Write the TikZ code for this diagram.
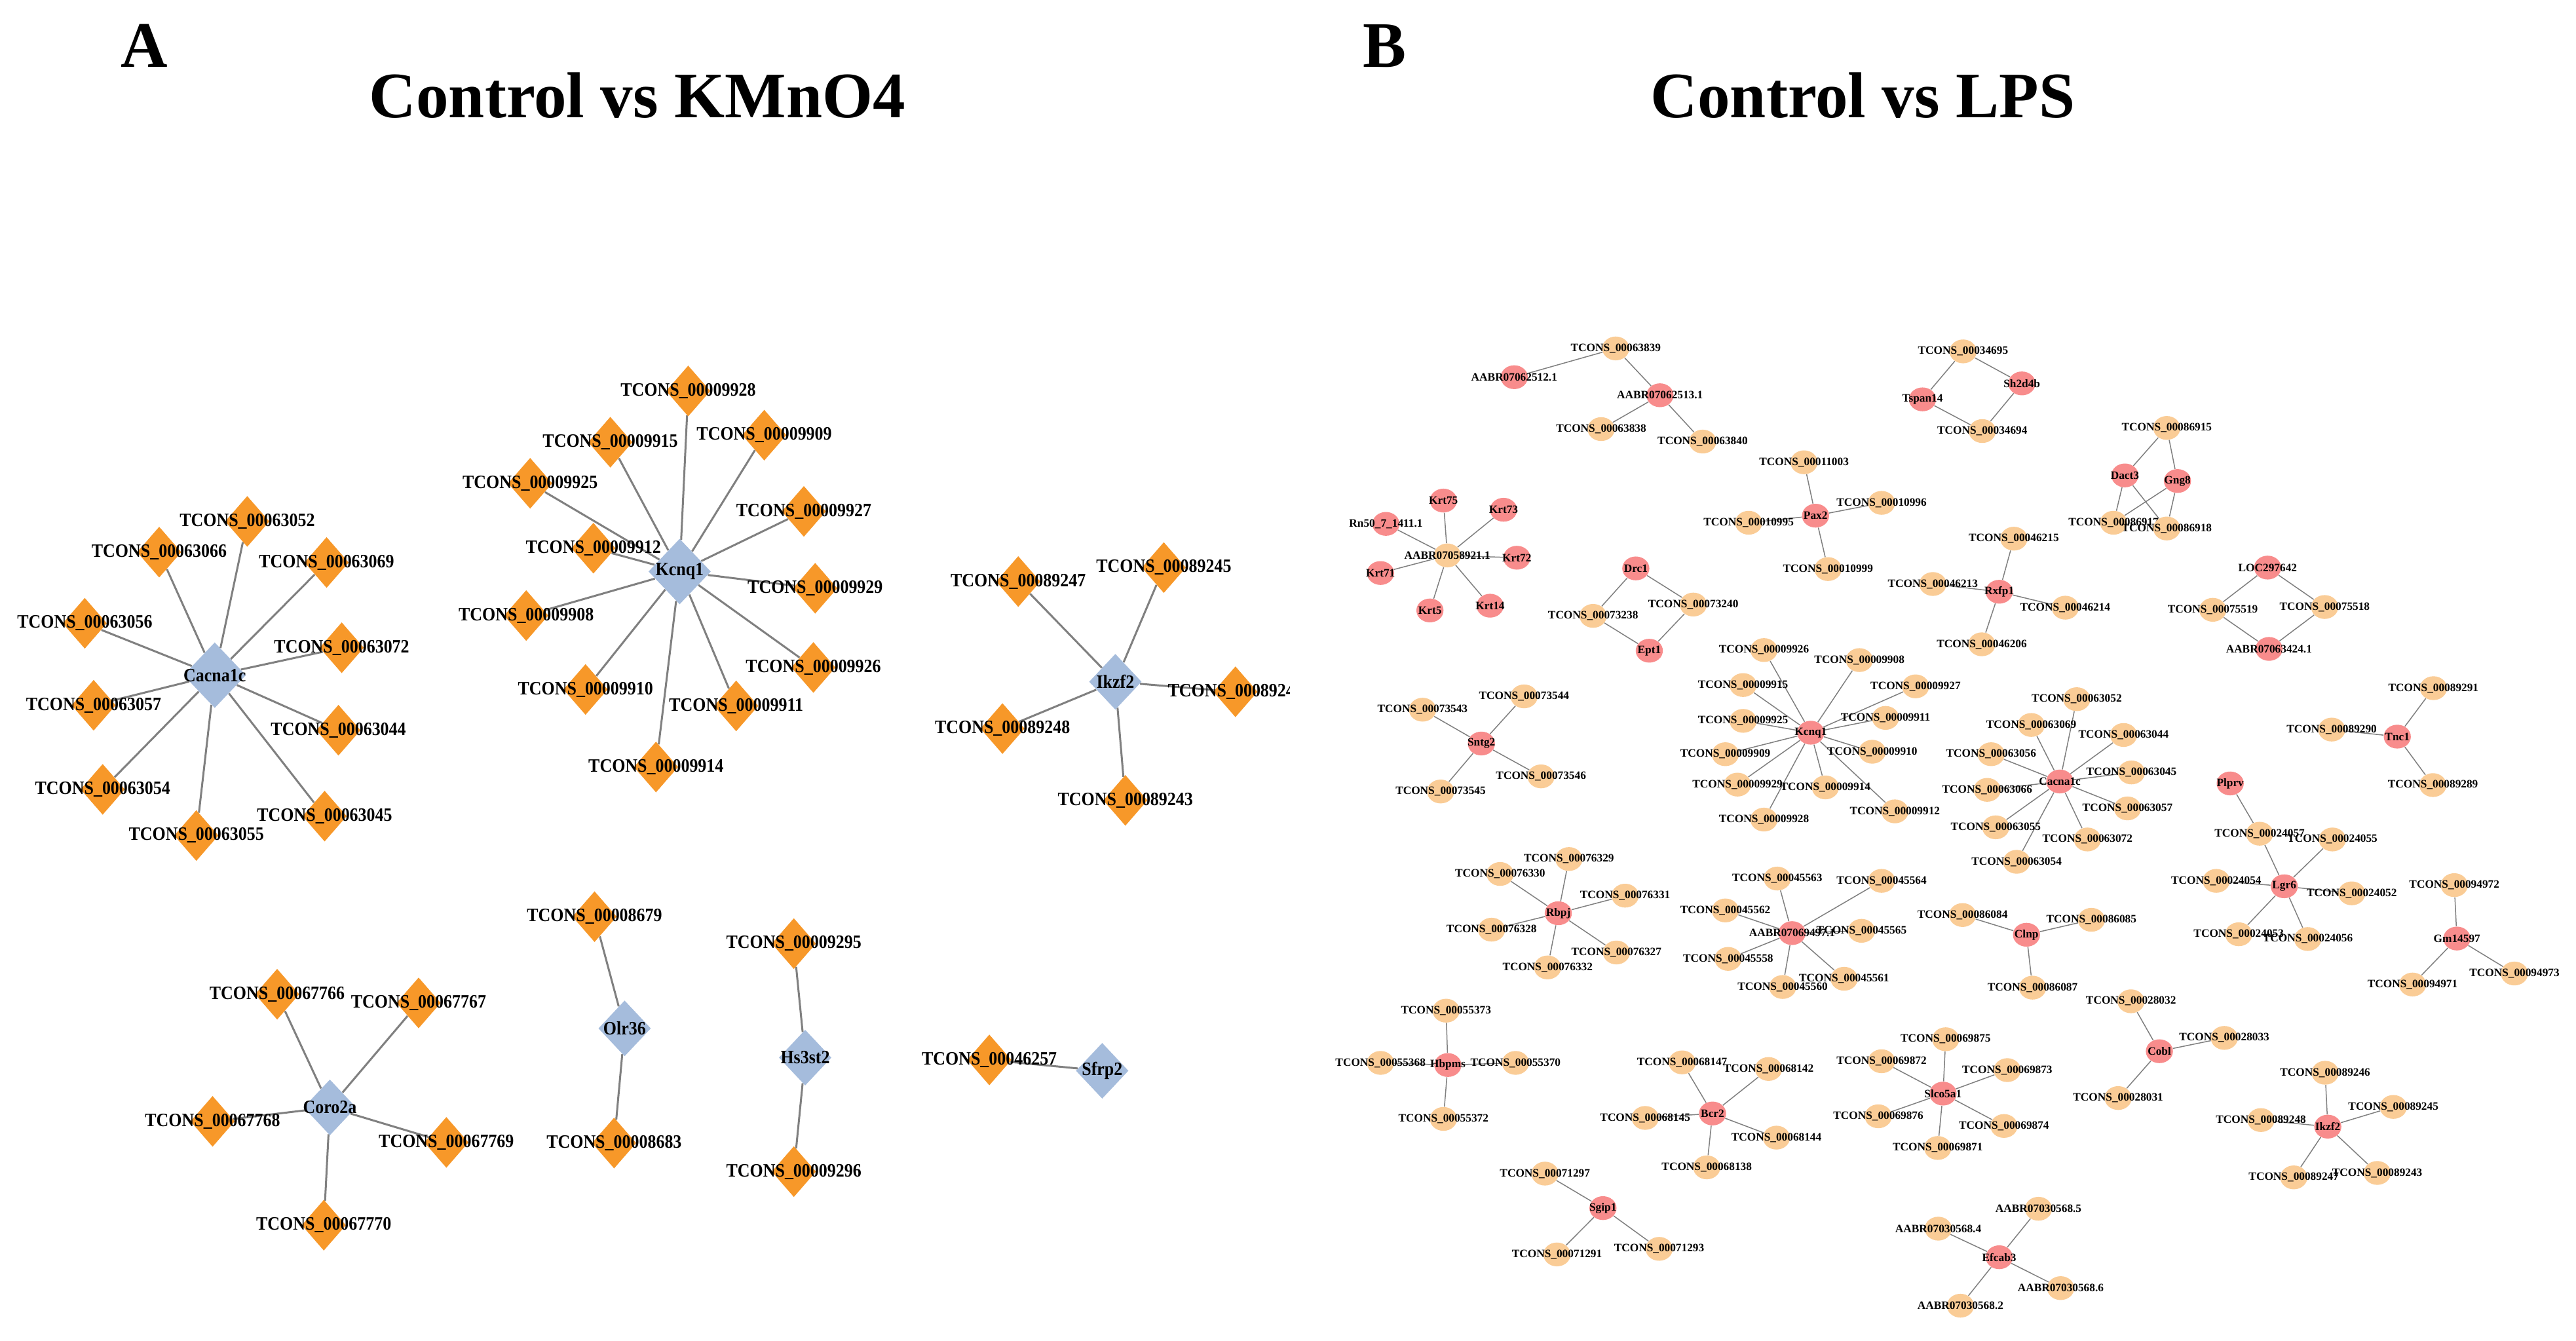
\documentclass[tikz,border=0pt]{standalone}
\usepackage{fontspec}
\setmainfont{Liberation Serif}
\newfontfamily\labfont{Liberation Serif}[FakeStretch=0.9]
\usetikzlibrary{shapes.geometric}
\pgfdeclarelayer{bottomlayer}
\pgfdeclarelayer{edgelayer}
\pgfsetlayers{bottomlayer,edgelayer,main}
\definecolor{orD}{RGB}{247,152,41}
\definecolor{blD}{RGB}{165,188,220}
\definecolor{pkC}{RGB}{248,140,140}
\definecolor{pcC}{RGB}{250,204,150}
\definecolor{edC}{RGB}{128,128,128}
\tikzset{
  labA/.style={font=\labfont\bfseries\fontsize{11.5}{12}\selectfont, inner sep=0pt},
  labB/.style={font=\bfseries\fontsize{6.9}{7}\selectfont, inner sep=0pt},
  odia/.style={shape=diamond, fill=orD, draw=none, inner sep=0pt, minimum width=27pt, minimum height=31pt},
  bdia/.style={shape=diamond, fill=blD, draw=none, inner sep=0pt, minimum width=38pt, minimum height=40pt},
  bdias/.style={shape=diamond, fill=blD, draw=none, inner sep=0pt, minimum width=32pt, minimum height=34pt},
  pkn/.style={shape=ellipse, fill=pkC, draw=none, inner sep=0pt, minimum width=16.5pt, minimum height=14.5pt},
  pcn/.style={shape=ellipse, fill=pcC, draw=none, inner sep=0pt, minimum width=16.5pt, minimum height=14.5pt},
  edA/.style={draw=edC, line width=1.2pt},
  edB/.style={draw=edC, line width=0.6pt},
  ttl/.style={font=\bfseries\fontsize{39.5}{41}\selectfont, inner sep=0pt}
}
\newcommand\odnode[3]{\node[odia,label={[labA]center:#3}] (#1) at (#2) {};}
\newcommand\bdnode[4][bdia]{\node[#1,label={[labA]center:#4}] (#2) at (#3) {};}
\newcommand\pcnode[3]{\node[pcn,label={[labB]center:#3}] (#1) at (#2) {};}
\newcommand\pknode[3]{\node[pkn,label={[labB]center:#3}] (#1) at (#2) {};}
\newcommand\tcn[1]{TCONS\_000#1}
\newcommand\starA[2]{\foreach \x in {#2} {\draw[edA] (#1) -- (\x);}}
\newcommand\starB[2]{\foreach \x in {#2} {\draw[edB] (#1) -- (\x);}}
\begin{document}
\begin{tikzpicture}[x=1pt,y=-1pt]
\useasboundingbox (0,0) rectangle (1568,816.3);
\begin{pgfonlayer}{bottomlayer}
\fill[white] (0,0) rectangle (1568,816.3);
\end{pgfonlayer}
% titles
\node[ttl] (tA) at (88,28) {A};
\node[ttl] (tAt) at (388,58) {Control vs KMnO4};
\node[ttl] (tB) at (843,28) {B};
\node[ttl] (tBt) at (1134,58) {Control vs LPS};

% ================= Panel A =================
\bdnode{ca}{130.7,411}{Cacna1c}
\odnode{a1}{150.5,317.4}{\tcn{63052}}
\odnode{a2}{96.9,336.1}{\tcn{63066}}
\odnode{a3}{198.8,342.4}{\tcn{63069}}
\odnode{a4}{51.6,379.4}{\tcn{63056}}
\odnode{a5}{208,394.3}{\tcn{63072}}
\odnode{a6}{57,429.3}{\tcn{63057}}
\odnode{a7}{206,444.5}{\tcn{63044}}
\odnode{a8}{62.5,480.5}{\tcn{63054}}
\odnode{a9}{197.6,496.8}{\tcn{63045}}
\odnode{a10}{119.5,508.6}{\tcn{63055}}

\bdnode{kq}{413.7,347.9}{Kcnq1}
\odnode{k1}{418.9,238.0}{\tcn{09928}}
\odnode{k2}{371.5,269.2}{\tcn{09915}}
\odnode{k3}{465.2,264.9}{\tcn{09909}}
\odnode{k4}{322.7,294.2}{\tcn{09925}}
\odnode{k5}{489.3,311.3}{\tcn{09927}}
\odnode{k6}{361.2,333.7}{\tcn{09912}}
\odnode{k7}{496.2,358.1}{\tcn{09929}}
\odnode{k8}{320.3,374.7}{\tcn{09908}}
\odnode{k9}{495.1,406.3}{\tcn{09926}}
\odnode{k10}{356.4,419.7}{\tcn{09910}}
\odnode{k11}{448.1,429.7}{\tcn{09911}}
\odnode{k12}{399.3,466.9}{\tcn{09914}}

\bdnode[bdias]{ik}{678.9,415.0}{Ikzf2}
\odnode{i1}{619.8,354.0}{\tcn{89247}}
\odnode{i2}{708.4,345.5}{\tcn{89245}}
\begin{scope}
\clip (700,380) rectangle (785,460);
\odnode{i3}{752,421.1}{\tcn{89246}}
\end{scope}
\odnode{i4}{610.2,443.5}{\tcn{89248}}
\odnode{i5}{685.0,487.2}{\tcn{89243}}

\bdnode[bdias]{co}{200.8,674.1}{Coro2a}
\odnode{c1}{168.7,605.2}{\tcn{67766}}
\odnode{c2}{254.8,610.5}{\tcn{67767}}
\odnode{c3}{129.4,682.6}{\tcn{67768}}
\odnode{c4}{271.7,695.4}{\tcn{67769}}
\odnode{c5}{197.1,745.8}{\tcn{67770}}

\bdnode[bdias]{ol}{380.2,626.0}{Olr36}
\odnode{o1}{361.9,558.0}{\tcn{08679}}
\odnode{o2}{373.8,695.8}{\tcn{08683}}

\bdnode[bdias]{hs}{490.1,643.8}{Hs3st2}
\odnode{h1}{483.2,574.4}{\tcn{09295}}
\odnode{h2}{483.2,713.2}{\tcn{09296}}

\bdnode[bdias]{sf}{670.9,651.8}{Sfrp2}
\odnode{s1}{602.2,645.2}{\tcn{46257}}

\begin{pgfonlayer}{edgelayer}
\starA{ca}{a1,a2,a3,a4,a5,a6,a7,a8,a9,a10}
\starA{kq}{k1,k2,k3,k4,k5,k6,k7,k8,k9,k10,k11,k12}
\starA{ik}{i1,i2,i3,i4,i5}
\starA{co}{c1,c2,c3,c4,c5}
\starA{ol}{o1,o2}
\starA{hs}{h1,h2}
\starA{sf}{s1}
\end{pgfonlayer}

% ================= Panel B =================
\pcnode{b1}{983.5,212.1}{\tcn{63839}}
\pknode{b2}{921.7,229.6}{AABR07062512.1}
\pknode{b3}{1010.4,240.6}{AABR07062513.1}
\pcnode{b4}{974.6,261.2}{\tcn{63838}}
\pcnode{b5}{1036.4,268.8}{\tcn{63840}}

\pcnode{kh}{881.0,338.1}{AABR07058921.1}
\pknode{kr1}{878.6,304.7}{Krt75}
\pknode{kr2}{915.2,310.3}{Krt73}
\pknode{kr3}{843.6,318.9}{Rn50\_7\_1411.1}
\pknode{kr4}{923.3,339.5}{Krt72}
\pknode{kr5}{840.3,348.8}{Krt71}
\pknode{kr6}{907.0,368.7}{Krt14}
\pknode{kr7}{870.4,371.6}{Krt5}

\pknode{dr1}{995.7,346.0}{Drc1}
\pcnode{dr2}{1030.7,368.0}{\tcn{73240}}
\pcnode{dr3}{969.7,374.9}{\tcn{73238}}
\pknode{dr4}{1003.9,396.1}{Ept1}

\pcnode{ts1}{1194.9,213.9}{\tcn{34695}}
\pknode{ts2}{1230.7,233.4}{Sh2d4b}
\pknode{ts3}{1170.2,243.1}{Tspan14}
\pcnode{ts4}{1206.6,262.4}{\tcn{34694}}

\pknode{px}{1105.1,313.9}{Pax2}
\pcnode{px1}{1098.1,281.4}{\tcn{11003}}
\pcnode{px2}{1145.3,306.1}{\tcn{10996}}
\pcnode{px3}{1064.4,318.2}{\tcn{10995}}
\pcnode{px4}{1112.7,346.4}{\tcn{10999}}

\pknode{rx}{1216.9,360.2}{Rxfp1}
\pcnode{rx1}{1225.8,327.9}{\tcn{46215}}
\pcnode{rx2}{1176.5,355.5}{\tcn{46213}}
\pcnode{rx3}{1257.1,369.9}{\tcn{46214}}
\pcnode{rx4}{1206.3,392.2}{\tcn{46206}}

\pknode{da}{1293.4,289.4}{Dact3}
\pknode{gn}{1325.4,292.8}{Gng8}
\pcnode{dg1}{1318.9,260.5}{\tcn{86915}}
\pcnode{dg2}{1286.5,318.2}{\tcn{86917}}
\pcnode{dg3}{1318.9,321.7}{\tcn{86918}}

\pknode{lc}{1380.3,345.5}{LOC297642}
\pcnode{lc1}{1346.9,371.2}{\tcn{75519}}
\pcnode{lc2}{1415.0,369.5}{\tcn{75518}}
\pknode{lc3}{1381.1,395.0}{AABR07063424.1}

\pknode{sn}{901.7,452.6}{Sntg2}
\pcnode{sn1}{927.7,423.9}{\tcn{73544}}
\pcnode{sn2}{865.9,432.0}{\tcn{73543}}
\pcnode{sn3}{938.0,472.6}{\tcn{73546}}
\pcnode{sn4}{876.9,481.8}{\tcn{73545}}

\pknode{rb}{948.5,555.9}{Rbpj}
\pcnode{rb1}{955.0,522.9}{\tcn{76329}}
\pcnode{rb2}{913.1,532.0}{\tcn{76330}}
\pcnode{rb3}{989.2,545.2}{\tcn{76331}}
\pcnode{rb4}{907.9,565.9}{\tcn{76328}}
\pcnode{rb5}{983.9,579.8}{\tcn{76327}}
\pcnode{rb6}{942.0,588.9}{\tcn{76332}}

\pknode{kb}{1102.2,446.0}{Kcnq1}
\pcnode{kb1}{1073.7,395.7}{\tcn{09926}}
\pcnode{kb2}{1131.8,401.8}{\tcn{09908}}
\pcnode{kb3}{1166.0,417.8}{\tcn{09927}}
\pcnode{kb4}{1061.0,417.0}{\tcn{09915}}
\pcnode{kb5}{1061.0,438.8}{\tcn{09925}}
\pcnode{kb6}{1147.7,437.0}{\tcn{09911}}
\pcnode{kb7}{1050.2,459.1}{\tcn{09909}}
\pcnode{kb8}{1139.6,457.6}{\tcn{09910}}
\pcnode{kb9}{1057.6,477.6}{\tcn{09929}}
\pcnode{kb10}{1111.1,479.3}{\tcn{09914}}
\pcnode{kb11}{1153.4,493.9}{\tcn{09912}}
\pcnode{kb12}{1073.7,498.9}{\tcn{09928}}

\pknode{cb}{1253.8,475.7}{Cacna1c}
\pcnode{cb1}{1264.1,425.6}{\tcn{63052}}
\pcnode{cb2}{1236.4,441.3}{\tcn{63069}}
\pcnode{cb3}{1292.6,447.4}{\tcn{63044}}
\pcnode{cb4}{1212.0,459.1}{\tcn{63056}}
\pcnode{cb5}{1297.4,470.2}{\tcn{63045}}
\pcnode{cb6}{1209.6,480.8}{\tcn{63066}}
\pcnode{cb7}{1295.0,492.1}{\tcn{63057}}
\pcnode{cb8}{1214.8,503.6}{\tcn{63055}}
\pcnode{cb9}{1270.6,511.0}{\tcn{63072}}
\pcnode{cb10}{1227.5,524.6}{\tcn{63054}}

\pknode{ab}{1090.8,568.0}{AABR07069497.1}
\pcnode{ab1}{1081.8,534.8}{\tcn{45563}}
\pcnode{ab2}{1145.3,536.2}{\tcn{45564}}
\pcnode{ab3}{1050.2,554.2}{\tcn{45562}}
\pcnode{ab4}{1133.1,566.6}{\tcn{45565}}
\pcnode{ab5}{1051.9,583.7}{\tcn{45558}}
\pcnode{ab6}{1085.1,600.8}{\tcn{45560}}
\pcnode{ab7}{1122.5,595.8}{\tcn{45561}}

\pknode{cl}{1233.5,569.0}{Clnp}
\pcnode{cl1}{1194.6,557.0}{\tcn{86084}}
\pcnode{cl2}{1273.0,559.9}{\tcn{86085}}
\pcnode{cl3}{1237.2,601.2}{\tcn{86087}}

\pknode{tn}{1459.2,448.4}{Tnc1}
\pcnode{tn1}{1481.2,418.9}{\tcn{89291}}
\pcnode{tn2}{1419.3,444.1}{\tcn{89290}}
\pcnode{tn3}{1480.9,477.9}{\tcn{89289}}

\pknode{pl}{1357.5,476.9}{Plprv}
\pknode{lg}{1390.4,539.5}{Lgr6}
\pcnode{lg0}{1375.4,507.5}{\tcn{24057}}
\pcnode{lg1}{1419.7,511.0}{\tcn{24055}}
\pcnode{lg2}{1349.0,536.2}{\tcn{24054}}
\pcnode{lg3}{1431.5,543.8}{\tcn{24052}}
\pcnode{lg4}{1362.7,568.7}{\tcn{24053}}
\pcnode{lg5}{1404.7,571.6}{\tcn{24056}}

\pknode{gm}{1495.5,571.3}{Gm14597}
\pcnode{gm1}{1493.9,538.8}{\tcn{94972}}
\pcnode{gm2}{1468.5,599.3}{\tcn{94971}}
\pcnode{gm3}{1530.5,592.6}{\tcn{94973}}

\pknode{hb}{881.3,648.3}{Hbpms}
\pcnode{hb1}{880.2,615.2}{\tcn{55373}}
\pcnode{hb2}{840.3,647.0}{\tcn{55368}}
\pcnode{hb3}{922.5,647.0}{\tcn{55370}}
\pcnode{hb4}{878.6,681.1}{\tcn{55372}}

\pknode{bc}{1042.4,677.8}{Bcr2}
\pcnode{bc1}{1023.9,646.7}{\tcn{68147}}
\pcnode{bc2}{1076.5,650.7}{\tcn{68142}}
\pcnode{bc3}{1001.4,680.5}{\tcn{68145}}
\pcnode{bc4}{1081.3,692.5}{\tcn{68144}}
\pcnode{bc5}{1038.9,710.6}{\tcn{68138}}

\pknode{sg}{975.7,735.4}{Sgip1}
\pcnode{sg1}{940.4,714.4}{\tcn{71297}}
\pcnode{sg2}{947.7,763.6}{\tcn{71291}}
\pcnode{sg3}{1009.9,760.2}{\tcn{71293}}

\pknode{sl}{1182.7,665.7}{Slco5a1}
\pcnode{sl1}{1184.3,632.6}{\tcn{69875}}
\pcnode{sl2}{1145.3,646.0}{\tcn{69872}}
\pcnode{sl3}{1221.8,651.4}{\tcn{69873}}
\pcnode{sl4}{1143.3,679.5}{\tcn{69876}}
\pcnode{sl5}{1219.8,685.4}{\tcn{69874}}
\pcnode{sl6}{1179.5,698.8}{\tcn{69871}}

\pknode{ef}{1216.9,765.3}{Efcab3}
\pcnode{ef1}{1240.8,735.8}{AABR07030568.5}
\pcnode{ef2}{1179.8,747.9}{AABR07030568.4}
\pcnode{ef3}{1254.3,784.1}{AABR07030568.6}
\pcnode{ef4}{1193.3,794.8}{AABR07030568.2}

\pknode{cd}{1314.4,639.9}{Cobl}
\pcnode{cd1}{1297.1,609.5}{\tcn{28032}}
\pcnode{cd2}{1353.9,631.8}{\tcn{28033}}
\pcnode{cd3}{1289.3,668.4}{\tcn{28031}}

\pknode{ib}{1416.9,685.8}{Ikzf2}
\pcnode{ib1}{1415.3,653.0}{\tcn{89246}}
\pcnode{ib2}{1456.8,673.8}{\tcn{89245}}
\pcnode{ib3}{1376.2,681.8}{\tcn{89248}}
\pcnode{ib4}{1396.2,716.7}{\tcn{89247}}
\pcnode{ib5}{1447.0,714.0}{\tcn{89243}}

\begin{pgfonlayer}{edgelayer}
\starB{b1}{b2,b3}
\starB{b3}{b4,b5}
\starB{kh}{kr1,kr2,kr3,kr4,kr5,kr6,kr7}
\starB{dr1}{dr2,dr3}
\starB{dr4}{dr2,dr3}
\starB{ts1}{ts2,ts3}
\starB{ts4}{ts2,ts3}
\starB{px}{px1,px2,px3,px4}
\starB{rx}{rx1,rx2,rx3,rx4}
\starB{da}{dg1,dg2,dg3}
\starB{gn}{dg1,dg2,dg3}
\starB{lc}{lc1,lc2}
\starB{lc3}{lc1,lc2}
\starB{sn}{sn1,sn2,sn3,sn4}
\starB{rb}{rb1,rb2,rb3,rb4,rb5,rb6}
\starB{kb}{kb1,kb2,kb3,kb4,kb5,kb6,kb7,kb8,kb9,kb10,kb11,kb12}
\starB{cb}{cb1,cb2,cb3,cb4,cb5,cb6,cb7,cb8,cb9,cb10}
\starB{ab}{ab1,ab2,ab3,ab4,ab5,ab6,ab7}
\starB{cl}{cl1,cl2,cl3}
\starB{tn}{tn1,tn2,tn3}
\starB{pl}{lg0}
\starB{lg}{lg0,lg1,lg2,lg3,lg4,lg5}
\starB{gm}{gm1,gm2,gm3}
\starB{hb}{hb1,hb2,hb3,hb4}
\starB{bc}{bc1,bc2,bc3,bc4,bc5}
\starB{sg}{sg1,sg2,sg3}
\starB{sl}{sl1,sl2,sl3,sl4,sl5,sl6}
\starB{ef}{ef1,ef2,ef3,ef4}
\starB{cd}{cd1,cd2,cd3}
\starB{ib}{ib1,ib2,ib3,ib4,ib5}
\end{pgfonlayer}
\end{tikzpicture}
\end{document}
